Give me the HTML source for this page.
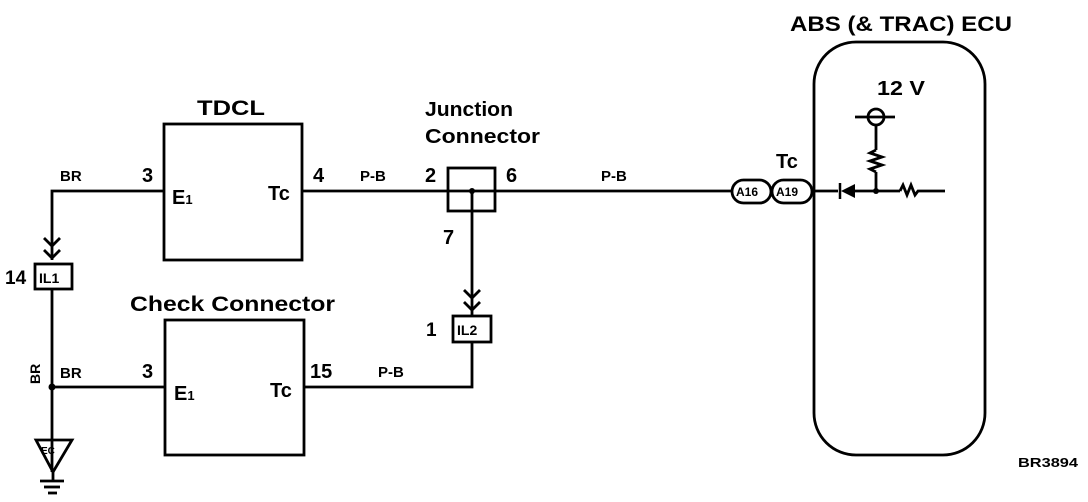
<!DOCTYPE html>
<html><head><meta charset="utf-8"><style>
html,body{margin:0;padding:0;background:#fff;}
svg{display:block;}
text{font-family:"Liberation Sans",Arial,sans-serif;font-weight:bold;fill:#000;}
</style></head><body>
<svg width="1088" height="502" viewBox="0 0 1088 502" xmlns="http://www.w3.org/2000/svg">
<g stroke="#000" stroke-width="2.8" fill="none">
 <rect x="164" y="124" width="138" height="136"/>
 <rect x="165" y="320" width="139" height="135"/>
 <polyline points="52,260 52,191 164,191"/>
 <line x1="302" y1="191" x2="731" y2="191"/>
 <rect x="448" y="168" width="47" height="43"/>
 <line x1="472" y1="191" x2="472" y2="315"/>
 <polyline points="44,238 52,246 60,238"/>
 <polyline points="44,250 52,258 60,250"/>
 <rect x="35" y="264" width="37" height="25"/>
 <line x1="52" y1="289" x2="52" y2="472"/>
 <line x1="52" y1="387" x2="165" y2="387"/>
 <polygon points="36,440 72,440 53,472"/>
 <line x1="53" y1="472" x2="53" y2="481"/>
 <line x1="40" y1="481" x2="64" y2="481"/>
 <line x1="44" y1="487" x2="60" y2="487"/>
 <line x1="48" y1="493" x2="57" y2="493"/>
 <polyline points="464,290 472,298 480,290"/>
 <polyline points="464,302 472,310 480,302"/>
 <rect x="453" y="316" width="38" height="26"/>
 <polyline points="472,342 472,387 304,387"/>
 <rect x="732" y="180" width="39" height="23" rx="11.5"/>
 <rect x="772" y="180" width="40" height="23" rx="11.5"/>
 <line x1="812" y1="191" x2="838" y2="191"/>
 <rect x="814" y="42" width="171" height="413" rx="42"/>
 <line x1="855" y1="191" x2="900" y2="191"/>
 <line x1="876" y1="191" x2="876" y2="172"/>
 <polyline points="876,172 870,169 882,165 870,161 882,157 870,153 876,150"/>
 <line x1="876" y1="150" x2="876" y2="126"/>
 <circle cx="876" cy="117" r="8"/>
 <line x1="855" y1="117" x2="895" y2="117"/>
 <polyline points="900,191 903,185 907,195 911,185 915,195 918,191 945,191"/>
</g>
<polygon points="855,184 855,198 841,191" fill="#000"/>
<line x1="840" y1="183" x2="840" y2="199" stroke="#000" stroke-width="2.5"/>
<circle cx="876" cy="191" r="3" fill="#000"/>
<circle cx="472" cy="191" r="3" fill="#000"/>
<circle cx="52" cy="387" r="3.5" fill="#000"/>

<text x="197" y="115" font-size="21" textLength="68" lengthAdjust="spacingAndGlyphs">TDCL</text>
<text x="425" y="116" font-size="20" textLength="88" lengthAdjust="spacingAndGlyphs">Junction</text>
<text x="425" y="143" font-size="20" textLength="115" lengthAdjust="spacingAndGlyphs">Connector</text>
<text x="130" y="311" font-size="21" textLength="205" lengthAdjust="spacingAndGlyphs">Check Connector</text>
<text x="790" y="31" font-size="21" textLength="222" lengthAdjust="spacingAndGlyphs">ABS (&amp; TRAC) ECU</text>
<text x="877" y="95" font-size="20" textLength="48" lengthAdjust="spacingAndGlyphs">12 V</text>
<text x="776" y="168" font-size="20">Tc</text>

<text x="60" y="181" font-size="15">BR</text>
<text x="142" y="182" font-size="20">3</text>
<text x="172" y="204" font-size="20">E<tspan font-size="13">1</tspan></text>
<text x="268" y="200" font-size="20">Tc</text>
<text x="313" y="182" font-size="20">4</text>
<text x="360" y="181" font-size="15">P-B</text>
<text x="425" y="182" font-size="20">2</text>
<text x="506" y="182" font-size="20">6</text>
<text x="443" y="244" font-size="20">7</text>
<text x="601" y="181" font-size="15">P-B</text>

<text x="5" y="284" font-size="19">14</text>
<text x="39" y="283" font-size="14">IL1</text>
<text x="426" y="336" font-size="19">1</text>
<text x="457" y="335" font-size="14">IL2</text>

<text x="60" y="378" font-size="15">BR</text>
<text transform="translate(40,384) rotate(-90)" font-size="14">BR</text>
<text x="142" y="378" font-size="20">3</text>
<text x="174" y="400" font-size="20">E<tspan font-size="13">1</tspan></text>
<text x="270" y="397" font-size="20">Tc</text>
<text x="310" y="378" font-size="20">15</text>
<text x="378" y="377" font-size="15">P-B</text>

<text x="41" y="454" font-size="10">EC</text>
<text x="736" y="196" font-size="12">A16</text>
<text x="776" y="196" font-size="12">A19</text>
<text x="1018" y="467" font-size="13" textLength="60" lengthAdjust="spacingAndGlyphs">BR3894</text>
</svg>
</body></html>
